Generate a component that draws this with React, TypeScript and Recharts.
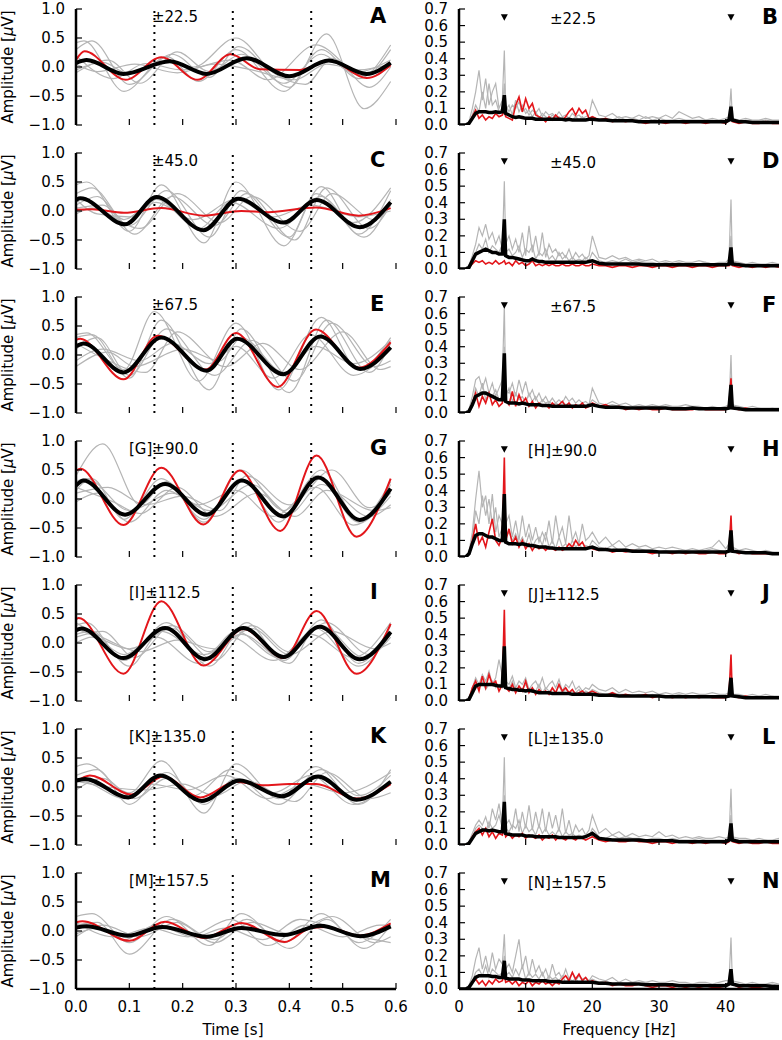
import React from "react";
import { LineChart, Line, XAxis, YAxis, ReferenceLine, ReferenceDot } from "recharts";

const FONT = "'DejaVu Sans', sans-serif";
const GRAY = "#b5b5b5";
const RED = "#e3161b";

// ---- left column: averaged waveforms, [time s, amplitude uV] ----
const A_BLACK = [[0,.07],[.02,.12],[.089,-.12],[.176,.10],[.245,-.12],[.32,.15],[.40,-.16],[.474,.11],[.545,-.12],[.59,.07]];
const A_RED = [[0,.12],[.016,.27],[.093,-.22],[.16,.17],[.228,-.22],[.29,.22],[.345,-.04],[.42,-.05],[.476,.11],[.545,-.19],[.59,.03]];
const A_GRAY = [
  [[0,.3],[.03,.45],[.1,-.3],[.18,.22],[.25,-.18],[.305,.35],[.4,-.35],[.47,.57],[.54,-.72],[.59,-.25]],
  [[0,.42],[.015,.45],[.09,-.42],[.17,.18],[.23,-.25],[.3,.3],[.39,-.42],[.46,.3],[.53,-.2],[.59,.38]],
  [[0,-.1],[.06,.12],[.12,-.28],[.19,.26],[.25,-.08],[.31,.22],[.39,-.28],[.46,.22],[.52,-.1],[.59,.12]],
  [[0,.2],[.07,-.2],[.13,.06],[.2,-.05],[.29,.12],[.36,-.22],[.45,.38],[.54,-.15],[.59,.3]],
  [[0,-.05],[.05,.08],[.1,-.12],[.16,.1],[.22,0],[.3,.5],[.37,-.1],[.43,-.3],[.48,.15],[.55,-.35],[.59,0]],
  [[0,.05],[.04,-.08],[.11,.05],[.19,-.1],[.26,.05],[.33,-.05],[.41,-.22],[.47,.05],[.53,-.05],[.59,.05]],
];
const C_BLACK = [[0,.19],[.008,.22],[.092,-.23],[.151,.24],[.239,-.33],[.304,.21],[.389,-.2],[.451,.19],[.532,-.28],[.59,.15]];
const C_RED = [[0,.02],[.03,.03],[.09,-.03],[.16,.05],[.24,-.08],[.31,0],[.36,-.02],[.45,.06],[.53,-.08],[.59,.05]];
const C_GRAY = [
  [[0,.45],[.02,.5],[.1,-.35],[.16,.45],[.24,-.55],[.3,.5],[.39,-.6],[.46,.42],[.53,-.4],[.59,.35]],
  [[0,.3],[.03,.4],[.1,-.25],[.17,.35],[.25,-.45],[.31,.35],[.4,-.45],[.45,.3],[.54,-.45],[.59,.2]],
  [[0,.1],[.04,.25],[.09,-.15],[.15,.2],[.23,-.3],[.29,.15],[.38,-.3],[.46,.25],[.52,-.2],[.59,.4]],
  [[0,.05],[.05,.1],[.11,-.4],[.18,.25],[.26,-.25],[.32,.3],[.41,-.5],[.47,.4],[.55,-.3],[.59,.1]],
  [[0,.2],[.04,-.05],[.1,-.1],[.15,.15],[.22,-.15],[.3,.2],[.37,-.1],[.44,.1],[.53,-.1],[.59,0]],
  [[0,-.05],[.03,.05],[.12,-.3],[.19,.3],[.27,-.2],[.33,.25],[.42,-.35],[.48,.3],[.56,-.15],[.59,.1]],
];
const E_BLACK = [[0,.15],[.014,.2],[.089,-.3],[.16,.3],[.245,-.27],[.302,.28],[.389,-.33],[.458,.32],[.533,-.24],[.59,.13]];
const E_RED = [[0,.26],[.008,.28],[.089,-.42],[.153,.33],[.243,-.25],[.3,.38],[.378,-.55],[.45,.44],[.53,-.22],[.59,.22]];
const E_GRAY = [
  [[0,.35],[.02,.38],[.09,-.25],[.147,.75],[.23,-.45],[.3,.55],[.38,-.6],[.46,.65],[.53,-.25],[.59,.3]],
  [[0,.3],[.03,.35],[.1,-.4],[.16,.6],[.25,-.6],[.31,.45],[.4,-.65],[.47,.6],[.55,-.3],[.59,.2]],
  [[0,-.1],[.05,.1],[.12,-.1],[.18,.2],[.25,-.15],[.3,.15],[.37,-.4],[.44,.35],[.52,-.35],[.59,.1]],
  [[0,.1],[.04,.3],[.1,-.35],[.17,.45],[.26,-.35],[.33,.25],[.41,-.45],[.48,.55],[.56,-.2],[.59,-.1]],
  [[0,-.2],[.06,.05],[.11,-.2],[.2,.1],[.27,-.1],[.31,.3],[.39,-.3],[.45,.15],[.52,-.15],[.59,.25]],
  [[0,.2],[.05,-.05],[.13,-.3],[.19,.4],[.28,-.2],[.35,.2],[.42,-.25],[.5,.4],[.57,-.25],[.59,-.2]],
];
const G_BLACK = [[0,.23],[.014,.32],[.092,-.27],[.167,.26],[.245,-.27],[.311,.32],[.389,-.3],[.454,.37],[.532,-.36],[.59,.18]];
const G_RED = [[0,.49],[.008,.52],[.089,-.45],[.16,.54],[.239,-.44],[.307,.49],[.383,-.55],[.451,.75],[.526,-.65],[.59,.35]];
const G_GRAY = [
  [[0,.4],[.05,.95],[.12,-.1],[.17,.3],[.24,-.4],[.31,.5],[.39,-.2],[.46,.5],[.53,-.35],[.59,.3]],
  [[0,.15],[.03,.35],[.09,-.35],[.16,.35],[.24,-.35],[.31,.35],[.38,-.4],[.45,.4],[.53,-.4],[.59,.25]],
  [[0,.3],[.02,.35],[.1,-.2],[.18,.1],[.25,-.2],[.33,.25],[.4,-.25],[.46,.25],[.55,-.3],[.59,-.1]],
  [[0,-.05],[.04,.1],[.1,-.4],[.17,.15],[.23,-.1],[.3,.15],[.37,-.3],[.45,.2],[.52,-.45],[.59,.05]],
  [[0,.1],[.06,.2],[.13,-.1],[.2,.05],[.27,-.2],[.32,.4],[.4,-.1],[.48,.5],[.55,-.15],[.59,.1]],
  [[0,.2],[.07,-.05],[.12,-.25],[.19,.2],[.26,-.3],[.34,.1],[.41,-.3],[.47,.15],[.56,-.2],[.59,-.15]],
];
const I_BLACK = [[0,.22],[.01,.25],[.089,-.26],[.167,.26],[.242,-.28],[.314,.26],[.389,-.24],[.457,.28],[.532,-.28],[.59,.19]];
const I_RED = [[0,.41],[.005,.43],[.089,-.53],[.16,.72],[.239,-.39],[.314,.24],[.389,-.26],[.451,.55],[.526,-.53],[.59,.33]];
const I_GRAY = [
  [[0,.3],[.02,.35],[.09,-.3],[.17,.35],[.25,-.4],[.32,.35],[.39,-.3],[.46,.4],[.53,-.35],[.59,.3]],
  [[0,.15],[.03,.2],[.1,-.4],[.16,.2],[.24,-.2],[.31,.15],[.4,-.35],[.45,.25],[.53,-.4],[.59,.2]],
  [[0,.25],[.04,.1],[.1,-.1],[.18,.25],[.26,-.3],[.33,.3],[.4,-.15],[.47,.35],[.55,-.2],[.59,.1]],
  [[0,0],[.03,.1],[.09,-.2],[.15,.1],[.23,-.35],[.3,.2],[.38,-.25],[.44,.15],[.52,-.25],[.59,.35]],
  [[0,.35],[.06,.05],[.12,-.15],[.19,.05],[.26,-.1],[.33,.25],[.4,-.2],[.48,.2],[.56,-.1],[.59,0]],
  [[0,.1],[.05,.2],[.11,-.25],[.18,.3],[.25,-.15],[.29,.1],[.37,-.3],[.46,.3],[.54,-.25],[.59,.15]],
];
const K_BLACK = [[0,.11],[.017,.14],[.098,-.18],[.158,.2],[.236,-.24],[.307,.11],[.386,-.16],[.454,.18],[.526,-.22],[.59,.09]];
const K_RED = [[0,.09],[.026,.2],[.104,-.13],[.164,.18],[.233,-.18],[.3,.09],[.35,.03],[.4,.05],[.45,.05],[.526,-.2],[.59,.05]];
const K_GRAY = [
  [[0,.35],[.02,.4],[.1,-.1],[.16,.45],[.24,-.45],[.3,.4],[.38,-.2],[.45,.35],[.53,-.3],[.59,.3]],
  [[0,.2],[.04,.3],[.1,-.3],[.17,.25],[.24,-.3],[.3,.15],[.38,-.3],[.46,.3],[.53,-.15],[.59,.2]],
  [[0,-.05],[.05,.15],[.11,-.2],[.17,.15],[.22,-.15],[.29,.3],[.37,-.1],[.44,.2],[.52,-.3],[.59,.1]],
  [[0,.1],[.06,0],[.13,-.05],[.2,.05],[.26,-.15],[.32,.1],[.41,-.25],[.47,.25],[.55,-.2],[.59,-.1]],
  [[0,.15],[.03,.05],[.09,-.2],[.14,.05],[.21,-.05],[.28,.2],[.36,-.2],[.43,.05],[.5,-.1],[.59,.25]],
];
const M_BLACK = [[0,.06],[.02,.08],[.097,-.08],[.162,.07],[.245,-.1],[.31,.05],[.39,-.07],[.458,.09],[.533,-.09],[.59,.08]];
const M_RED = [[0,.15],[.012,.17],[.1,-.17],[.167,.16],[.24,-.12],[.31,.14],[.391,-.19],[.44,.05],[.47,.07],[.53,-.08],[.59,.13]];
const M_GRAY = [
  [[0,.25],[.03,.3],[.1,-.2],[.17,.25],[.25,-.25],[.31,.3],[.39,-.2],[.46,.3],[.53,-.2],[.59,.2]],
  [[0,.1],[.04,.15],[.1,-.4],[.18,.2],[.26,-.15],[.32,.2],[.4,-.3],[.47,.2],[.54,-.3],[.59,.1]],
  [[0,-.1],[.05,.1],[.12,-.1],[.19,.15],[.26,-.2],[.33,.15],[.4,-.05],[.48,.25],[.56,-.2],[.59,-.1]],
  [[0,.15],[.07,-.1],[.14,.05],[.21,-.1],[.29,.2],[.36,-.25],[.43,.1],[.5,-.1],[.57,.1],[.59,.1]],
  [[0,-.05],[.04,.05],[.09,-.15],[.15,.1],[.22,-.1],[.28,.05],[.35,-.15],[.42,.2],[.51,-.05],[.59,-.2]],
];

// ---- right column: spectra on a shared frequency grid (Hz) ----
const FREQS = [
  0,0.5,1,1.5,2,2.5,3,3.5,4,4.5,5,5.5,6,6.5,
  6.8,7,7.5,8,8.5,9,9.5,10,10.5,11,11.5,12,12.5,13,13.5,14,14.5,15,15.5,16,16.5,17,17.5,18,18.5,19,19.5,20,
  21,22,23,24,25,26,27,28,29,30,31,32,33,34,35,36,37,38,39,40,
  40.5,40.8,41,42,43,44,45,46,47,48,
];
const B_BLACK = [0,0,0,.01,.04,.07,.08,.08,.08,.075,.075,.08,.075,.08,
  .18,.07,.06,.05,.045,.05,.045,.04,.04,.04,.035,.035,.035,.035,.035,.035,.035,.035,.035,.03,.035,.03,.03,.03,.03,.03,.035,.035,
  .03,.03,.025,.025,.025,.025,.02,.02,.02,.02,.02,.02,.02,.02,.02,.02,.02,.02,.02,.02,
  .03,.11,.03,.02,.02,.015,.015,.015,.015,.015];
const B_RED = [0,0,0,.01,.05,.09,.04,.06,.03,.05,.04,.07,.05,.06,
  .09,.05,.04,.03,.12,.17,.08,.16,.1,.13,.06,.05,.04,.02,.05,.03,.06,.04,.03,.05,.08,.1,.06,.1,.07,.09,.04,.05,
  .03,.04,.02,.03,.02,.03,.02,.01,.02,.02,.01,.02,.02,.01,.02,.02,.01,.02,.02,.01,
  .03,.06,.02,.01,.02,.01,.01,.02,.01,.01];
const B_GRAY1 = [0,0,0,.02,.1,.2,.33,.15,.28,.12,.2,.25,.1,.15,
  .45,.12,.08,.12,.1,.14,.08,.1,.06,.09,.07,.1,.05,.08,.06,.07,.05,.08,.05,.06,.04,.07,.05,.06,.04,.05,.06,.15,
  .06,.05,.07,.04,.05,.04,.06,.04,.05,.04,.06,.04,.08,.06,.04,.05,.03,.04,.03,.04,
  .05,.22,.04,.03,.04,.03,.03,.04,.03,.03];
const B_GRAY2 = [0,0,0,.01,.06,.12,.08,.2,.1,.25,.12,.15,.08,.1,
  .25,.09,.12,.06,.15,.08,.12,.07,.09,.05,.08,.04,.07,.05,.04,.06,.04,.05,.03,.05,.04,.03,.05,.03,.05,.03,.04,.05,
  .03,.04,.03,.05,.03,.04,.03,.05,.03,.04,.03,.03,.04,.03,.03,.03,.03,.03,.02,.03,
  .04,.12,.03,.02,.03,.02,.02,.03,.02,.02];
const D_BLACK = [0,0,0,.01,.05,.09,.1,.11,.12,.11,.1,.1,.09,.09,
  .30,.08,.07,.07,.065,.06,.055,.05,.05,.06,.05,.045,.045,.04,.04,.04,.04,.04,.04,.04,.04,.04,.04,.04,.04,.04,.045,.05,
  .035,.03,.03,.03,.03,.03,.03,.025,.025,.025,.025,.025,.025,.025,.025,.025,.025,.025,.025,.025,
  .03,.13,.03,.025,.02,.02,.02,.02,.02,.02];
const D_RED = [0,0,0,.01,.03,.05,.04,.05,.03,.04,.03,.05,.03,.04,
  .05,.03,.04,.02,.05,.03,.04,.02,.03,.05,.02,.03,.02,.03,.02,.03,.02,.02,.03,.02,.02,.03,.02,.02,.03,.02,.02,.03,
  .02,.02,.01,.02,.02,.01,.02,.02,.01,.02,.02,.01,.02,.02,.01,.02,.02,.01,.02,.02,
  .02,.04,.02,.01,.02,.01,.02,.01,.02,.01];
const D_GRAY1 = [0,0,0,.02,.08,.15,.25,.2,.27,.18,.22,.15,.2,.12,
  .53,.15,.2,.12,.18,.1,.22,.08,.26,.1,.2,.08,.22,.07,.15,.1,.12,.08,.1,.07,.12,.06,.1,.07,.09,.06,.08,.2,
  .07,.06,.08,.06,.07,.05,.06,.05,.06,.04,.05,.04,.05,.04,.04,.05,.04,.03,.04,.04,
  .06,.42,.05,.04,.03,.04,.03,.03,.04,.03];
const D_GRAY2 = [0,0,0,.01,.05,.1,.15,.12,.18,.1,.14,.12,.1,.15,
  .3,.1,.12,.08,.1,.14,.07,.12,.1,.14,.06,.1,.08,.12,.06,.08,.05,.1,.06,.08,.05,.07,.05,.06,.05,.07,.05,.1,
  .05,.04,.05,.04,.06,.04,.05,.04,.04,.03,.04,.03,.04,.03,.03,.03,.04,.03,.03,.03,
  .04,.2,.04,.03,.03,.03,.03,.02,.03,.03];
const F_BLACK = [0,0,0,.01,.05,.1,.11,.12,.12,.11,.1,.09,.08,.08,
  .36,.07,.06,.06,.06,.055,.06,.055,.05,.05,.05,.05,.045,.045,.045,.04,.04,.04,.04,.04,.04,.04,.04,.04,.04,.04,.045,.05,
  .04,.035,.035,.035,.03,.03,.03,.03,.03,.03,.03,.025,.025,.025,.03,.025,.025,.025,.025,.025,
  .03,.17,.03,.025,.02,.02,.02,.02,.02,.02];
const F_RED = [0,0,0,.01,.06,.12,.04,.1,.06,.12,.05,.08,.04,.06,
  .33,.08,.05,.13,.04,.11,.06,.09,.04,.07,.03,.06,.04,.05,.03,.06,.04,.05,.07,.04,.06,.03,.05,.04,.06,.03,.04,.06,
  .04,.05,.03,.04,.02,.03,.02,.03,.02,.02,.03,.02,.02,.02,.02,.03,.02,.02,.02,.02,
  .04,.21,.03,.02,.03,.02,.02,.02,.02,.02];
const F_GRAY1 = [0,0,0,.02,.1,.2,.22,.15,.21,.12,.18,.1,.15,.2,
  .65,.14,.12,.18,.1,.2,.12,.19,.1,.14,.08,.12,.07,.1,.06,.09,.06,.08,.06,.1,.07,.09,.06,.08,.06,.07,.05,.15,
  .06,.05,.07,.05,.06,.04,.05,.04,.05,.04,.05,.04,.04,.05,.04,.04,.03,.04,.03,.04,
  .05,.35,.05,.04,.03,.04,.03,.03,.03,.03];
const F_GRAY2 = [0,0,0,.01,.06,.15,.1,.18,.08,.12,.1,.14,.08,.1,
  .4,.1,.15,.07,.12,.08,.1,.06,.12,.07,.1,.05,.08,.06,.07,.05,.06,.05,.07,.05,.06,.04,.05,.04,.06,.04,.05,.08,
  .05,.04,.05,.04,.04,.03,.04,.03,.04,.03,.03,.03,.04,.03,.03,.03,.03,.03,.03,.03,
  .04,.22,.04,.03,.03,.02,.03,.02,.03,.02];
const H_BLACK = [0,0,0,.02,.08,.13,.14,.14,.13,.12,.12,.11,.1,.1,
  .38,.09,.08,.08,.08,.075,.08,.075,.07,.07,.065,.06,.06,.06,.055,.055,.05,.05,.05,.05,.05,.05,.05,.05,.05,.05,.055,.06,
  .045,.045,.04,.04,.04,.035,.035,.035,.035,.03,.03,.03,.03,.03,.03,.03,.03,.03,.03,.03,
  .035,.16,.035,.03,.025,.025,.025,.025,.02,.02];
const H_RED = [0,0,0,.02,.1,.2,.08,.12,.06,.15,.23,.1,.07,.12,
  .6,.1,.17,.08,.12,.06,.1,.05,.08,.04,.07,.05,.06,.04,.06,.05,.04,.06,.04,.05,.08,.06,.1,.07,.09,.05,.06,.05,
  .04,.05,.03,.04,.03,.04,.03,.03,.02,.03,.03,.02,.03,.02,.03,.02,.02,.03,.02,.02,
  .04,.25,.04,.02,.03,.02,.02,.02,.02,.02];
const H_GRAY1 = [0,0,0,.03,.15,.35,.52,.3,.37,.2,.38,.15,.25,.2,
  .3,.2,.25,.12,.22,.1,.25,.12,.2,.1,.18,.09,.15,.1,.22,.08,.25,.12,.18,.08,.25,.1,.15,.08,.2,.1,.12,.15,
  .08,.12,.07,.1,.06,.08,.06,.07,.05,.06,.05,.06,.05,.04,.05,.04,.05,.06,.1,.05,
  .08,.15,.06,.04,.05,.04,.03,.04,.03,.03];
const H_GRAY2 = [0,0,0,.02,.1,.28,.2,.37,.25,.35,.2,.3,.12,.18,
  .25,.12,.15,.1,.14,.08,.12,.07,.14,.06,.1,.12,.07,.15,.06,.1,.05,.12,.06,.08,.05,.1,.06,.08,.05,.07,.06,.1,
  .06,.05,.07,.04,.05,.04,.05,.04,.04,.03,.04,.03,.04,.03,.03,.03,.04,.05,.04,.03,
  .04,.12,.04,.03,.03,.03,.03,.02,.03,.02];
const J_BLACK = [0,0,0,.01,.05,.09,.1,.1,.1,.1,.1,.095,.09,.09,
  .33,.08,.075,.07,.07,.065,.065,.06,.065,.06,.055,.05,.05,.05,.05,.045,.045,.045,.045,.045,.045,.04,.04,.04,.04,.04,.04,.04,
  .035,.035,.035,.03,.03,.03,.03,.03,.03,.03,.025,.025,.025,.025,.025,.025,.025,.025,.025,.025,
  .03,.14,.03,.025,.02,.02,.02,.02,.02,.02];
const J_RED = [0,0,0,.01,.08,.12,.06,.15,.08,.16,.1,.12,.06,.1,
  .55,.08,.06,.1,.05,.09,.06,.12,.05,.08,.04,.07,.05,.06,.04,.08,.05,.1,.06,.08,.05,.07,.04,.05,.06,.04,.05,.06,
  .04,.03,.05,.03,.04,.03,.03,.04,.02,.03,.03,.02,.03,.02,.03,.02,.03,.02,.02,.02,
  .04,.28,.03,.02,.03,.02,.02,.02,.02,.02];
const J_GRAY1 = [0,0,0,.02,.08,.14,.1,.16,.12,.18,.1,.14,.25,.15,
  .45,.12,.1,.15,.08,.12,.1,.14,.07,.1,.12,.08,.14,.07,.1,.12,.08,.13,.06,.1,.08,.12,.07,.09,.06,.08,.07,.1,
  .07,.06,.08,.05,.07,.05,.06,.05,.06,.04,.05,.04,.05,.04,.05,.04,.04,.05,.04,.04,
  .05,.1,.04,.04,.03,.04,.03,.04,.03,.03];
const J_GRAY2 = [0,0,0,.01,.05,.1,.08,.12,.07,.1,.12,.08,.1,.08,
  .3,.1,.07,.12,.06,.09,.07,.1,.06,.08,.06,.1,.05,.08,.06,.07,.05,.09,.05,.07,.05,.06,.05,.07,.04,.06,.05,.07,
  .05,.04,.05,.04,.04,.03,.04,.03,.04,.03,.03,.03,.04,.03,.03,.03,.03,.03,.03,.03,
  .03,.08,.03,.03,.03,.02,.03,.02,.03,.02];
const L_BLACK = [0,0,0,.01,.04,.07,.08,.09,.09,.085,.09,.085,.08,.08,
  .26,.07,.065,.06,.06,.06,.06,.055,.055,.055,.05,.05,.05,.05,.05,.05,.05,.045,.045,.045,.045,.045,.045,.045,.045,.05,.06,.07,
  .04,.035,.03,.03,.03,.03,.03,.025,.025,.025,.025,.025,.02,.02,.02,.02,.02,.02,.02,.02,
  .03,.13,.03,.02,.02,.02,.02,.02,.02,.02];
const L_RED = [0,0,0,.01,.05,.08,.1,.06,.1,.05,.08,.04,.07,.06,
  .1,.05,.07,.04,.06,.05,.07,.04,.06,.05,.04,.06,.03,.05,.04,.06,.03,.05,.04,.03,.05,.04,.03,.05,.04,.03,.04,.05,
  .03,.02,.03,.02,.02,.03,.02,.02,.01,.02,.02,.01,.02,.02,.01,.02,.01,.02,.02,.01,
  .02,.06,.02,.01,.02,.01,.01,.02,.01,.01];
const L_GRAY1 = [0,0,0,.02,.07,.12,.15,.12,.17,.1,.22,.15,.25,.12,
  .53,.12,.15,.1,.22,.08,.2,.1,.24,.09,.2,.1,.22,.08,.2,.1,.18,.08,.22,.07,.15,.06,.12,.08,.1,.06,.09,.18,
  .07,.1,.06,.08,.05,.07,.05,.06,.05,.08,.05,.06,.04,.05,.04,.05,.04,.04,.05,.04,
  .05,.34,.05,.04,.04,.03,.04,.03,.03,.04];
const L_GRAY2 = [0,0,0,.01,.05,.1,.12,.1,.08,.14,.1,.12,.18,.1,
  .3,.1,.08,.12,.1,.15,.07,.12,.08,.1,.06,.12,.07,.1,.06,.08,.06,.1,.05,.08,.06,.07,.05,.06,.05,.06,.05,.1,
  .05,.04,.06,.04,.05,.04,.04,.03,.04,.04,.03,.04,.03,.03,.03,.04,.03,.03,.03,.03,
  .04,.18,.04,.03,.03,.03,.02,.03,.02,.03];
const N_BLACK = [0,0,0,.01,.04,.07,.08,.08,.08,.08,.075,.075,.07,.07,
  .17,.065,.06,.06,.06,.06,.055,.055,.055,.05,.05,.05,.05,.05,.045,.045,.045,.045,.04,.04,.04,.04,.04,.04,.04,.04,.04,.04,
  .035,.035,.03,.03,.03,.03,.03,.025,.025,.025,.025,.025,.02,.02,.02,.02,.02,.02,.02,.02,
  .03,.12,.03,.02,.02,.02,.02,.02,.015,.015];
const N_RED = [0,0,0,.01,.04,.06,.03,.05,.02,.05,.03,.06,.04,.05,
  .09,.04,.05,.03,.05,.02,.04,.03,.05,.02,.04,.03,.05,.03,.04,.02,.04,.03,.06,.08,.05,.1,.06,.09,.05,.07,.04,.05,
  .03,.04,.02,.03,.02,.02,.03,.02,.01,.02,.02,.01,.02,.01,.02,.01,.02,.01,.01,.02,
  .03,.12,.03,.01,.02,.01,.01,.02,.01,.01];
const N_GRAY1 = [0,0,0,.02,.08,.18,.25,.12,.2,.1,.22,.12,.18,.15,
  .33,.12,.15,.1,.2,.3,.12,.2,.08,.18,.1,.14,.08,.12,.06,.15,.08,.1,.06,.12,.06,.1,.05,.08,.06,.07,.05,.08,
  .06,.05,.07,.04,.06,.04,.05,.04,.05,.04,.04,.05,.04,.04,.03,.04,.04,.03,.04,.05,
  .05,.31,.05,.04,.03,.04,.03,.03,.04,.03];
const N_GRAY2 = [0,0,0,.01,.05,.1,.12,.08,.14,.07,.12,.1,.08,.1,
  .2,.08,.1,.07,.12,.08,.14,.06,.1,.07,.09,.06,.1,.05,.08,.06,.07,.05,.08,.04,.06,.05,.06,.04,.05,.04,.05,.06,
  .04,.05,.03,.04,.03,.04,.03,.04,.03,.03,.03,.03,.03,.03,.03,.03,.03,.02,.03,.03,
  .04,.12,.03,.03,.02,.03,.02,.02,.03,.02];

const LEFT_LETTERS = ["A", "C", "E", "G", "I", "K", "M"];
const RIGHT_LETTERS = ["B", "D", "F", "H", "J", "L", "N"];
const LEFT_TAGS = ["±22.5", "±45.0", "±67.5", "[G]±90.0", "[I]±112.5", "[K]±135.0", "[M]±157.5"];
const RIGHT_TAGS = ["±22.5", "±45.0", "±67.5", "[H]±90.0", "[J]±112.5", "[L]±135.0", "[N]±157.5"];
const CYCLE_TIMES = [0.147, 0.294, 0.441];
const MARKER_FREQS = [6.8, 40.8];
const TIME_TICKS = [0, 0.1, 0.2, 0.3, 0.4, 0.5, 0.6];
const AMP_TICKS = [-1, -0.5, 0, 0.5, 1];
const FREQ_TICKS = [0, 10, 20, 30, 40];
const SPEC_TICKS = [0, 0.1, 0.2, 0.3, 0.4, 0.5, 0.6, 0.7];

const LEFT_DATA = [
  { black: A_BLACK, red: A_RED, gray: A_GRAY },
  { black: C_BLACK, red: C_RED, gray: C_GRAY },
  { black: E_BLACK, red: E_RED, gray: E_GRAY },
  { black: G_BLACK, red: G_RED, gray: G_GRAY },
  { black: I_BLACK, red: I_RED, gray: I_GRAY },
  { black: K_BLACK, red: K_RED, gray: K_GRAY },
  { black: M_BLACK, red: M_RED, gray: M_GRAY },
];
const RIGHT_DATA = [
  [B_BLACK, B_RED, B_GRAY1, B_GRAY2],
  [D_BLACK, D_RED, D_GRAY1, D_GRAY2],
  [F_BLACK, F_RED, F_GRAY1, F_GRAY2],
  [H_BLACK, H_RED, H_GRAY1, H_GRAY2],
  [J_BLACK, J_RED, J_GRAY1, J_GRAY2],
  [L_BLACK, L_RED, L_GRAY1, L_GRAY2],
  [N_BLACK, N_RED, N_GRAY1, N_GRAY2],
];

// layout
const FIRST_TOP = 8.5;
const ROW_STEP = 144.05;
const PLOT_H = 116;
const PAD_T = 12;
const PAD_B = 8;
const L_AXIS = 76;
const R_LEFT = 390;
const R_AXIS = 69;

const minus = (s: string) => s.replace("-", "\u2212");

function yTick(axisX: number, fmt: (v: number) => string) {
  return (p: any) => (
    <g>
      <line x1={axisX} x2={axisX + 6} y1={p.y} y2={p.y} stroke="#000" strokeWidth={1.2} />
      <text x={axisX - 11} y={p.y} textAnchor="end" dominantBaseline="central" fontSize={15} fontFamily={FONT} fill="#000">
        {fmt(p.payload.value)}
      </text>
    </g>
  );
}

function xTick(showLabel: boolean, fmt: (v: number) => string) {
  const bottom = PAD_T + PLOT_H;
  return (p: any) => (
    <g>
      {p.payload.value !== 0 && (
        <line x1={p.x} x2={p.x} y1={bottom} y2={bottom - 6} stroke="#000" strokeWidth={1.2} />
      )}
      {showLabel && (
        <text x={p.x} y={bottom + 18} textAnchor="middle" dominantBaseline="central" fontSize={15} fontFamily={FONT} fill="#000">
          {fmt(p.payload.value)}
        </text>
      )}
    </g>
  );
}

const pts = (arr: number[][]) => arr.map(([t, v]) => ({ t, v }));

function WavePanel({ i }: { i: number }) {
  const last = i === LEFT_DATA.length - 1;
  const d = LEFT_DATA[i];
  const xh = last ? 30 : 2;
  return (
    <LineChart width={412} height={PAD_T + PLOT_H + xh + PAD_B} margin={{ top: PAD_T, right: 16, bottom: PAD_B, left: 0 }}>
      <XAxis type="number" dataKey="t" domain={[0, 0.6]} ticks={TIME_TICKS} interval={0} allowDataOverflow
        height={xh} tickSize={0} tickMargin={0}
        axisLine={last ? { stroke: "#000", strokeWidth: 2.5 } : false}
        tick={xTick(last, (v) => v.toFixed(1))} />
      <YAxis type="number" domain={[-1, 1]} ticks={AMP_TICKS} interval={0} allowDataOverflow width={L_AXIS}
        tickSize={0} tickMargin={11} axisLine={{ stroke: "#000", strokeWidth: 2.5 }}
        tick={yTick(L_AXIS, (v) => minus(v.toFixed(1)))} />
      {d.gray.map((g, j) => (
        <Line key={j} data={pts(g)} dataKey="v" type="monotone" stroke={GRAY} strokeWidth={1.2} dot={false} activeDot={false} isAnimationActive={false} />
      ))}
      <Line data={pts(d.red)} dataKey="v" type="monotone" stroke={RED} strokeWidth={2} dot={false} activeDot={false} isAnimationActive={false} />
      <Line data={pts(d.black)} dataKey="v" type="monotone" stroke="#000" strokeWidth={4} dot={false} activeDot={false} isAnimationActive={false} />
      {CYCLE_TIMES.map((t) => (
        <ReferenceLine key={t} x={t} stroke="#000" strokeWidth={2} strokeDasharray="2 5" />
      ))}
    </LineChart>
  );
}

function SpecPanel({ i }: { i: number }) {
  const last = i === RIGHT_DATA.length - 1;
  const [k, r, g1, g2] = RIGHT_DATA[i];
  const rows = FREQS.map((f, j) => ({ f, k: k[j], r: r[j], g1: g1[j], g2: g2[j] }));
  const xh = last ? 30 : 2;
  const tri = (p: any) => (
    <polygon points={`${p.cx - 3.5},${p.cy - 3} ${p.cx + 3.5},${p.cy - 3} ${p.cx},${p.cy + 3.5}`} fill="#000" />
  );
  return (
    <LineChart width={R_AXIS + 320 + 3} height={PAD_T + PLOT_H + xh + PAD_B} data={rows}
      margin={{ top: PAD_T, right: 3, bottom: PAD_B, left: 0 }}>
      <XAxis type="number" dataKey="f" domain={[0, 48]} ticks={FREQ_TICKS} interval={0} allowDataOverflow
        height={xh} tickSize={0} tickMargin={0}
        axisLine={last ? { stroke: "#000", strokeWidth: 2.5 } : false}
        tick={xTick(last, (v) => String(v))} />
      <YAxis type="number" domain={[0, 0.7]} ticks={SPEC_TICKS} interval={0} allowDataOverflow width={R_AXIS}
        tickSize={0} tickMargin={13} axisLine={{ stroke: "#000", strokeWidth: 2.5 }}
        tick={yTick(R_AXIS, (v) => v.toFixed(1))} />
      <Line dataKey="g1" type="linear" stroke={GRAY} strokeWidth={1.2} dot={false} activeDot={false} isAnimationActive={false} />
      <Line dataKey="g2" type="linear" stroke={GRAY} strokeWidth={1.2} dot={false} activeDot={false} isAnimationActive={false} />
      <Line dataKey="r" type="linear" stroke={RED} strokeWidth={1.6} dot={false} activeDot={false} isAnimationActive={false} />
      <Line dataKey="k" type="linear" stroke="#000" strokeWidth={3.5} dot={false} activeDot={false} isAnimationActive={false} />
      {MARKER_FREQS.map((f) => (
        <ReferenceDot key={f} x={f} y={0.65} r={3} shape={tri} />
      ))}
    </LineChart>
  );
}

const abs = (left: number, top: number, extra: React.CSSProperties = {}): React.CSSProperties => ({
  position: "absolute", left, top, whiteSpace: "nowrap", lineHeight: 1, fontFamily: FONT, ...extra,
});

export default function App() {
  return (
    <div style={{ position: "absolute", left: 0, top: 0, width: 782, height: 1040, background: "#fff", overflow: "hidden" }}>
      {LEFT_DATA.map((_, i) => {
        const top = FIRST_TOP + i * ROW_STEP;
        return (
          <React.Fragment key={i}>
            <div style={abs(0, top - PAD_T)}><WavePanel i={i} /></div>
            <div style={abs(R_LEFT, top - PAD_T)}><SpecPanel i={i} /></div>
            <div style={abs(8, top + PLOT_H / 2, { fontSize: 15, transform: "translate(-50%, -50%) rotate(-90deg)" })}>
              Amplitude [<span style={{ fontStyle: "italic" }}>μ</span>V]
            </div>
            <div style={abs(LEFT_TAGS[i].startsWith("[") ? 129 : 152, top + 8, { fontSize: 15, transform: "translateY(-50%)" })}>
              {LEFT_TAGS[i]}
            </div>
            <div style={abs(RIGHT_TAGS[i].startsWith("[") ? 528 : 550, top + 10, { fontSize: 15, transform: "translateY(-50%)" })}>
              {RIGHT_TAGS[i]}
            </div>
            <div style={abs(370, top + 7.5, { fontSize: 21, fontWeight: "bold", transform: "translateY(-50%)" })}>
              {LEFT_LETTERS[i]}
            </div>
            <div style={abs(762, top + 8.5, { fontSize: 21, fontWeight: "bold", transform: "translateY(-50%)" })}>
              {RIGHT_LETTERS[i]}
            </div>
          </React.Fragment>
        );
      })}
      <div style={abs(233, 1030, { fontSize: 15, transform: "translate(-50%, -50%)" })}>Time [s]</div>
      <div style={abs(619, 1030, { fontSize: 15, transform: "translate(-50%, -50%)" })}>Frequency [Hz]</div>
    </div>
  );
}
